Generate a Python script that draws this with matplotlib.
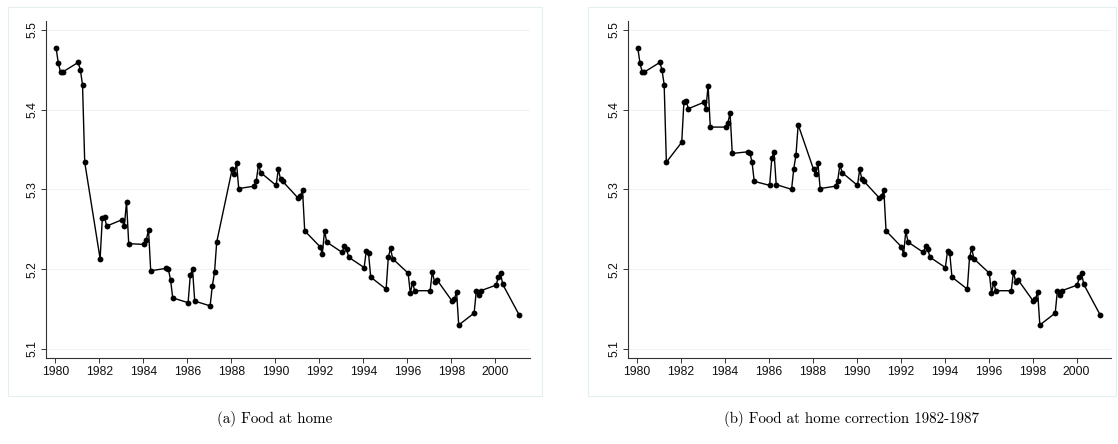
import matplotlib
matplotlib.use("Agg")
import matplotlib.pyplot as plt
from matplotlib.patches import Rectangle

# Time index: four observations per year, 1980-2000, plus one in 2001
years = list(range(1980, 2001))
period_offsets = [0.03, 0.13, 0.23, 0.33]
last_period = 2001.09

# (a) Food at home (log price level)
food_home = [
    5.477, 5.458, 5.447, 5.447,   # 1980
    5.459, 5.450, 5.431, 5.334,   # 1981
    5.213, 5.264, 5.265, 5.254,   # 1982
    5.262, 5.254, 5.284, 5.232,   # 1983
    5.231, 5.237, 5.249, 5.198,   # 1984
    5.201, 5.200, 5.187, 5.164,   # 1985
    5.158, 5.193, 5.200, 5.160,   # 1986
    5.154, 5.179, 5.196, 5.234,   # 1987
    5.325, 5.319, 5.333, 5.301,   # 1988
    5.304, 5.311, 5.331, 5.321,   # 1989
    5.305, 5.325, 5.313, 5.310,   # 1990
    5.289, 5.292, 5.299, 5.248,   # 1991
    5.228, 5.219, 5.248, 5.234,   # 1992
    5.221, 5.229, 5.225, 5.215,   # 1993
    5.202, 5.223, 5.220, 5.190,   # 1994
    5.175, 5.215, 5.226, 5.213,   # 1995
    5.195, 5.170, 5.183, 5.173,   # 1996
    5.173, 5.197, 5.184, 5.187,   # 1997
    5.160, 5.162, 5.172, 5.130,   # 1998
    5.145, 5.173, 5.168, 5.173,   # 1999
    5.180, 5.190, 5.195, 5.181,   # 2000
    5.142,                        # 2001
]

# (b) Food at home with the 1982-1987 correction
food_home_corr = [
    5.477, 5.458, 5.447, 5.447,   # 1980
    5.459, 5.450, 5.431, 5.334,   # 1981
    5.359, 5.410, 5.411, 5.401,   # 1982
    5.409, 5.401, 5.430, 5.378,   # 1983
    5.378, 5.383, 5.396, 5.345,   # 1984
    5.347, 5.346, 5.334, 5.310,   # 1985
    5.305, 5.339, 5.347, 5.306,   # 1986
    5.300, 5.326, 5.343, 5.381,   # 1987
    5.325, 5.319, 5.333, 5.301,   # 1988
    5.304, 5.311, 5.331, 5.321,   # 1989
    5.305, 5.325, 5.313, 5.310,   # 1990
    5.289, 5.292, 5.299, 5.248,   # 1991
    5.228, 5.219, 5.248, 5.234,   # 1992
    5.221, 5.229, 5.225, 5.215,   # 1993
    5.202, 5.223, 5.220, 5.190,   # 1994
    5.175, 5.215, 5.226, 5.213,   # 1995
    5.195, 5.170, 5.183, 5.173,   # 1996
    5.173, 5.197, 5.184, 5.187,   # 1997
    5.160, 5.162, 5.172, 5.130,   # 1998
    5.145, 5.173, 5.168, 5.173,   # 1999
    5.180, 5.190, 5.195, 5.181,   # 2000
    5.142,                        # 2001
]

x_ticks = list(range(1980, 2001, 2))
y_ticks = [5.1, 5.2, 5.3, 5.4, 5.5]
y_tick_labels = ["5.1", "5.2", "5.3", "5.4", "5.5"]
captions = ["(a) Food at home", "(b) Food at home correction 1982-1987"]

time = [y + o for y in years for o in period_offsets] + [last_period]

W, H = 1118, 444
fig = plt.figure(figsize=(W / 100, H / 100), dpi=100, facecolor="white")

AXIS_COLOR = "#333333"
GRID_COLOR = "#f2f2f2"
BOX_COLOR = "#e6eef0"


def draw_panel(left_px, right_px, values, caption, box):
    ax = fig.add_axes([left_px / W, 1 - 358 / H,
                       (right_px - left_px) / W, (358 - 20.7) / H])
    ax.plot(time, values, color="black", lw=1.0, marker="o",
            markersize=4.2, markeredgewidth=0, zorder=3)
    ax.set_xlim(1979.57, 2001.57)
    ax.set_ylim(5.0887, 5.5113)
    ax.set_xticks(x_ticks)
    ax.set_yticks(y_ticks)
    ax.set_yticklabels(y_tick_labels, rotation=90, va="center")
    ax.grid(axis="y", color=GRID_COLOR, lw=0.8)
    ax.set_axisbelow(True)
    for side in ("top", "right"):
        ax.spines[side].set_visible(False)
    for side in ("left", "bottom"):
        ax.spines[side].set_color(AXIS_COLOR)
        ax.spines[side].set_linewidth(0.8)
    ax.tick_params(axis="both", direction="out", length=3.5, width=0.7,
                   color=AXIS_COLOR, labelsize=8.8, labelcolor="#111111",
                   pad=2)
    for lab in ax.get_xticklabels() + ax.get_yticklabels():
        lab.set_family(["Liberation Sans", "DejaVu Sans"])

    # faint graph-region outline, Stata style
    bx0, by0, bx1, by1 = box
    fig.patches.append(Rectangle(
        (bx0 / W, 1 - by1 / H), (bx1 - bx0) / W, (by1 - by0) / H,
        transform=fig.transFigure, fill=False, edgecolor=BOX_COLOR,
        linewidth=0.8, zorder=0))

    cx = (bx0 + bx1) / 2 / W
    fig.text(cx, 1 - 419 / H, caption, ha="center", va="center",
             fontsize=10.8, family=["cmr10", "DejaVu Serif"])


draw_panel(46, 530, food_home, captions[0], (8, 7, 542, 396))
draw_panel(627.7, 1111, food_home_corr, captions[1], (588, 7, 1116, 396))

fig.savefig("out.png", dpi=100, facecolor="white")
